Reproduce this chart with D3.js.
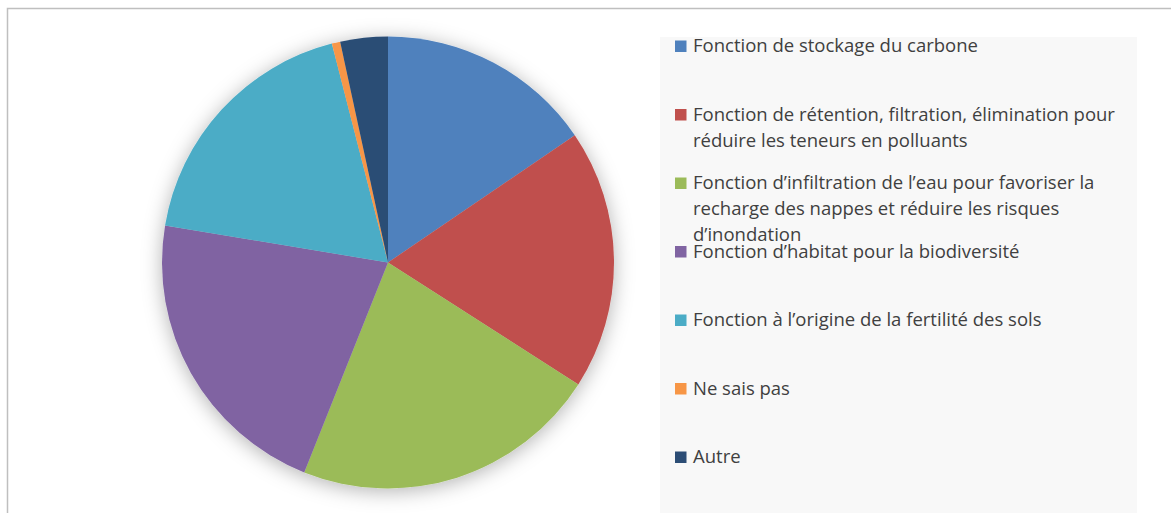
<!DOCTYPE html>
<html>
<head>
<meta charset="utf-8">
<script src="https://cdn.jsdelivr.net/npm/d3@7"></script>
<style>
  body { margin: 0; background: #fff; }
  svg { display: block; }
</style>
</head>
<body>
<div id="chart"></div>
<script>
// Data
const categories = [
  ['Fonction de stockage du carbone'],
  ['Fonction de rétention, filtration, élimination pour', 'réduire les teneurs en polluants'],
  ['Fonction d\u2019infiltration de l\u2019eau pour favoriser la', 'recharge des nappes et réduire les risques', 'd\u2019inondation'],
  ['Fonction d\u2019habitat pour la biodiversité'],
  ['Fonction à l\u2019origine de la fertilité des sols'],
  ['Ne sais pas'],
  ['Autre']
];
const values = [15.5, 18.6, 22.0, 21.6, 18.4, 0.6, 3.4];
const colors = ['#4f81bd', '#c0504d', '#9bbb59', '#8064a2', '#4bacc6', '#f79646', '#2c4d75'];

const dimensions = {
  width: 1171,
  height: 513,
  cx: 388,
  cy: 262.5,
  radius: 226
};

const svg = d3.select('#chart')
  .append('svg')
  .attr('width', dimensions.width)
  .attr('height', dimensions.height);

const defs = svg.append('defs');
const shadow = defs.append('filter')
  .attr('id', 'shadow')
  .attr('x', '-20%').attr('y', '-20%')
  .attr('width', '140%').attr('height', '140%');
shadow.append('feDropShadow')
  .attr('dx', 0).attr('dy', 3)
  .attr('stdDeviation', 10)
  .attr('flood-color', '#000')
  .attr('flood-opacity', 0.3);

// outer frame
svg.append('rect')
  .attr('x', 7.5).attr('y', 8.5)
  .attr('width', 1180).attr('height', 520)
  .attr('fill', '#fff')
  .attr('stroke', '#bfbfbf')
  .attr('stroke-width', 1.5);

// legend background
svg.append('rect')
  .attr('x', 660).attr('y', 37)
  .attr('width', 477).attr('height', 490)
  .attr('fill', '#f8f8f8');

// Pie
const pie = d3.pie().sort(null).value(d => d);
const arc = d3.arc().innerRadius(0).outerRadius(dimensions.radius);

const pieGroup = svg.append('g')
  .attr('transform', `translate(${dimensions.cx}, ${dimensions.cy})`)
  .attr('filter', 'url(#shadow)');

pieGroup.selectAll('path')
  .data(pie(values))
  .join('path')
  .attr('d', arc)
  .attr('fill', (d, i) => colors[i]);

// Legend
const legendY = d3.scalePoint()
  .domain(d3.range(categories.length))
  .range([52, 463]);

const legend = svg.append('g');
const item = legend.selectAll('g')
  .data(categories)
  .join('g')
  .attr('transform', (d, i) => `translate(675, ${legendY(i)})`);

item.append('rect')
  .attr('x', 0).attr('y', -11.5)
  .attr('width', 11.5).attr('height', 11.5)
  .attr('fill', (d, i) => colors[i]);

item.append('text')
  .attr('x', 18)
  .attr('font-family', 'Open Sans, sans-serif')
  .attr('font-size', 18.5)
  .attr('fill', '#404040')
  .selectAll('tspan')
  .data(d => d)
  .join('tspan')
  .attr('x', 18)
  .attr('dy', (d, i) => i === 0 ? 0 : 26)
  .text(d => d);
</script>
</body>
</html>
